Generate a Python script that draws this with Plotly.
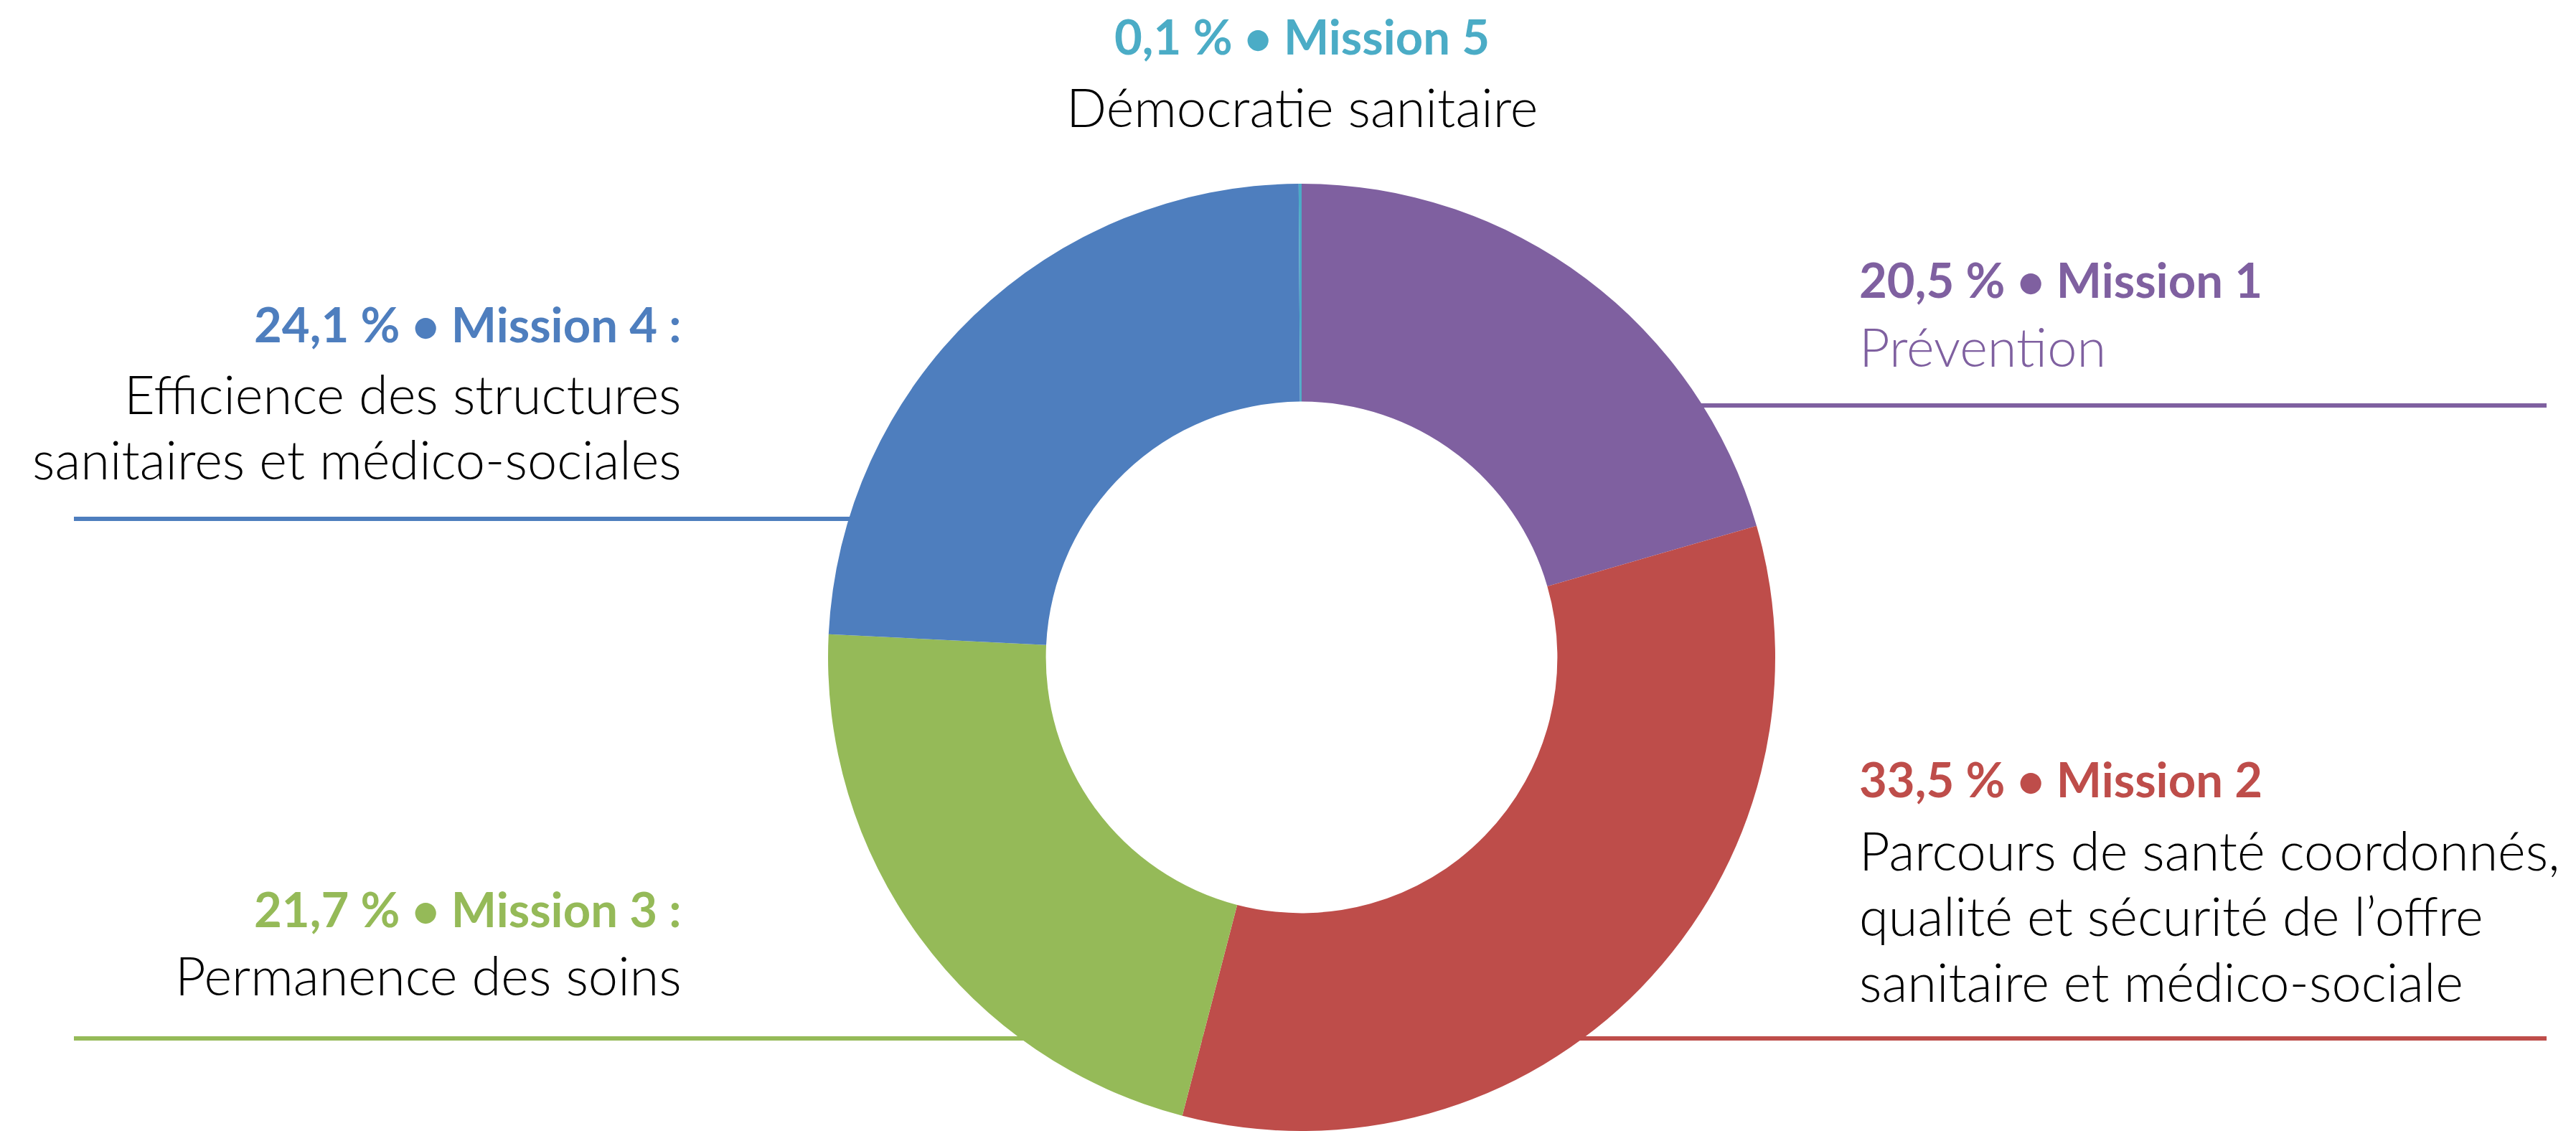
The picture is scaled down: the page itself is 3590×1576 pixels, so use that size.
import plotly.graph_objects as go

# page body has an 8px margin; figure is sized to fill the rest of the window
OFF = 8
W, H = 3590 - OFF, 1576 - OFF

# ---- data ----
missions = ["Mission 1", "Mission 2", "Mission 3", "Mission 4", "Mission 5"]
shares = [20.5, 33.5, 21.7, 24.1, 0.1]
share_labels = ["20,5 %", "33,5 %", "21,7 %", "24,1 %", "0,1 %"]
title_suffix = ["", "", " :", " :", ""]
descriptions = [
    ["Prévention"],
    ["Parcours de santé coordonnés,", "qualité et sécurité de l’offre", "sanitaire et médico-sociale"],
    ["Permanence des soins"],
    ["Efficience des structures", "sanitaires et médico-sociales"],
    ["Démocratie sanitaire"],
]
colors = ["#7F60A0", "#BE4D4A", "#95BA58", "#4E7EBE", "#4BACC6"]

# ---- layout helpers (window pixel -> paper) ----
def px(x):
    return (x - OFF) / W

def py(y):
    return 1 - (y - OFF) / H

cx, cy, R = 1814, 919, 663

fig = go.Figure(
    go.Pie(
        labels=missions,
        values=shares,
        hole=0.54,
        sort=False,
        direction="clockwise",
        rotation=0,
        marker=dict(colors=colors, line=dict(width=0)),
        textinfo="none",
        hoverinfo="label+percent",
        showlegend=False,
        domain=dict(x=[px(cx - R), px(cx + R)], y=[0, py(cy - R)]),
    )
)

# text block placement: (anchor x, xanchor, title y, body line ys, colored body)
blocks = [
    (2589, "left", 389, [483], True),
    (2589, "left", 1085, [1184, 1275, 1367], False),
    (952, "right", 1266, [1358], False),
    (952, "right", 451, [549, 639], False),
    (1814, "center", 50, [149], False),
]

FONT = "Lato"
TSIZE = 67
BSIZE = 74
annotations = []
for i, (ax, xa, ty, bys, colored_body) in enumerate(blocks):
    annotations.append(dict(
        x=px(ax), y=py(ty), xref="paper", yref="paper",
        xanchor=xa, yanchor="middle", showarrow=False,
        text=f"<b>{share_labels[i]} • {missions[i]}{title_suffix[i]}</b>",
        font=dict(family=FONT, size=TSIZE, color=colors[i]),
    ))
    for line, by in zip(descriptions[i], bys):
        annotations.append(dict(
            x=px(ax), y=py(by), xref="paper", yref="paper",
            xanchor=xa, yanchor="middle", showarrow=False,
            text=line,
            font=dict(family=FONT, size=BSIZE, weight=300,
                      color=colors[i] if colored_body else "#000000"),
        ))

# leader lines (drawn below the pie so the ring hides their inner ends)
LW = 6
shapes = [
    dict(type="line", xref="paper", yref="paper", layer="below",
         x0=px(2300), x1=px(3549), y0=py(565), y1=py(565),
         line=dict(color=colors[0], width=LW)),
    dict(type="line", xref="paper", yref="paper", layer="below",
         x0=px(1900), x1=px(3549), y0=py(1447), y1=py(1447),
         line=dict(color=colors[1], width=LW)),
    dict(type="line", xref="paper", yref="paper", layer="below",
         x0=px(103), x1=px(1700), y0=py(1447), y1=py(1447),
         line=dict(color=colors[2], width=LW)),
    dict(type="line", xref="paper", yref="paper", layer="below",
         x0=px(103), x1=px(1300), y0=py(723), y1=py(723),
         line=dict(color=colors[3], width=LW)),
]

fig.update_layout(
    width=W, height=H,
    margin=dict(l=0, r=0, t=0, b=0),
    paper_bgcolor="white", plot_bgcolor="white",
    annotations=annotations,
    shapes=shapes,
)

fig.write_html("out.html")
